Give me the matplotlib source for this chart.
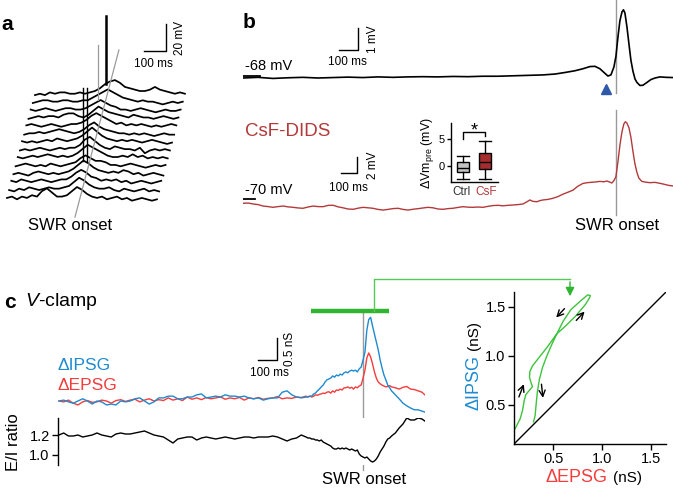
import numpy as np
import matplotlib
matplotlib.use("Agg")
import matplotlib.pyplot as plt
from matplotlib.lines import Line2D
from matplotlib.patches import FancyArrowPatch

plt.rcParams['font.family'] = ['Liberation Sans', 'DejaVu Sans']
plt.rcParams['mathtext.fontset'] = 'custom'
plt.rcParams['mathtext.rm'] = 'Liberation Sans'
plt.rcParams['mathtext.it'] = 'Liberation Sans:italic'
plt.rcParams['axes.linewidth'] = 1.0

# ======================= DATA =======================
# ---- panel a : waterfall of single-sweep Vm traces (local time in ms, Vm in mV re baseline)
a_time = [0, 23, 46, 69, 92, 115, 138, 161, 184, 207, 230, 253, 276, 299, 322,
          345, 368, 391, 414, 437, 460, 483, 506, 529, 552, 575, 598, 621, 644, 667, 690]
a_traces = [
    [0, 1, -1, 1, 0, 2, 1, 5, 7, 4, 1, 1, 2, 5, 8, 6, 3, 1, 0, 1, -1, 0, 1, -1, 0, -2, -1, 0, -1, -2, -1],
    [0, -1, 1, 0, 2, 1, 0, 1, 2, 1, 1, 2, 3, 6, 9, 7, 4, 2, 1, 1, 2, 0, -1, 1, 0, -1, 0, 1, -1, 0, -1],
    [1, 0, 2, 1, 0, 1, 2, 1, 0, 1, 2, 2, 4, 7, 9, 7, 4, 3, 1, 2, 1, 2, 0, 1, -1, 0, 1, 0, -1, 0, 1],
    [0, 1, 0, -1, 1, 2, 1, 0, 1, 0, 1, 2, 4, 7, 10, 8, 5, 3, 2, 1, 2, 1, 3, 2, 0, 1, -1, 0, 1, 0, -1],
    [0, 1, 2, 1, 0, 1, 0, 2, 1, 0, 1, 2, 3, 6, 8, 6, 4, 4, 3, 1, 1, 0, 1, 2, 1, 0, -1, 0, 1, 0, 1],
    [1, 0, 1, 2, 1, 2, 3, 2, 1, 2, 1, 2, 4, 7, 10, 8, 6, 4, 2, 1, 1, 2, 1, 3, 1, 2, 0, 1, 0, 1, 0],
    [0, 1, 0, 1, 2, 1, 0, 1, 2, 1, 2, 2, 4, 8, 10, 7, 4, 2, 1, 3, 2, 1, 1, 0, 2, -2, 0, 1, 0, 1, 0],
    [1, 0, 1, 0, 1, 2, 1, 3, 2, 1, 2, 3, 5, 8, 11, 8, 5, 3, 2, 1, 2, 1, 2, 1, 0, 1, 2, 1, 0, -1, 0],
    [0, 1, 1, 2, 1, 2, 3, 4, 3, 2, 1, 2, 4, 7, 9, 6, 4, 3, 2, 1, 1, 0, 1, 0, 1, 0, -1, 0, 1, 0, 0],
    [1, 2, 1, 0, 1, 2, 1, 0, 1, 2, 2, 3, 5, 8, 10, 8, 6, 4, 2, 3, 1, 2, 1, 2, 1, 0, 1, 0, 1, 2, 1],
    [0, 1, 2, 1, 2, 2, 1, 3, 4, 4, 2, 1, 3, 6, 9, 7, 5, 4, 3, 2, 1, 3, 2, 1, 1, 0, 1, 2, 1, 0, 1],
    [1, 0, 1, 2, 1, 0, 1, 2, 2, 1, 1, 2, 4, 6, 8, 6, 4, 3, 1, 1, 0, 1, 2, 1, 0, -1, 0, 1, 0, 0, 1],
    [0, 1, 2, 2, 1, 1, 2, 2, 1, 1, 2, 2, 4, 6, 8, 10, 8, 6, 4, 3, 2, 1, 2, 1, 1, 0, -1, 0, 1, 0, 1],
    [0, 1, 0, 2, 1, 2, 2, 1, 1, 2, 1, 2, 3, 5, 8, 10, 11, 9, 6, 5, 4, 3, 3, 4, 6, 4, 3, 2, 1, 2, 1],
]
a_spike_trace = [13, 3, 3]
a_spike_time = [327, 322, 338]
a_spike_amp = [58, 63, 63]

# ---- panel b : averaged Vm around SWR onset (ms, mV re baseline)
b_ctrl_t = [-1996, -1915, -1835, -1755, -1675, -1594, -1514, -1434, -1354, -1273, -1193, -1113,
            -1033, -952, -872, -792, -712, -631, -551, -471, -391, -326, -273, -219, -177, -139,
            -112, -86, -64, -43, -27, -11, 0, 11, 21, 32, 40, 48, 59, 70, 80, 91, 102, 112, 128,
            144, 166, 187, 209, 235, 268, 305]
b_ctrl_v = [0.0, 0.03, -0.02, 0.01, 0.03, 0.0, 0.02, 0.04, 0.02, 0.05, 0.03, 0.05,
            0.06, 0.05, 0.07, 0.06, 0.08, 0.08, 0.1, 0.12, 0.14, 0.18, 0.25, 0.33, 0.42, 0.52,
            0.53, 0.42, 0.25, 0.09, 0.14, 0.5, 1.0, 1.9, 2.6, 3.0, 3.1, 2.95, 2.3, 1.5, 0.8,
            0.3, -0.05, -0.2, -0.34, -0.33, -0.2, -0.07, 0.0, 0.05, 0.03, 0.02]
b_trough_t = [-53]
b_trough_v = [-0.48]

b_csf_t = [-2286, -2256, -2225, -2195, -2164, -2133, -2103, -2072, -2041, -2011, -1980, -1949,
           -1919, -1888, -1857, -1827, -1796, -1765, -1735, -1704, -1674, -1643, -1612, -1582,
           -1551, -1520, -1490, -1459, -1428, -1398, -1367, -1336, -1306, -1275, -1244, -1214,
           -1183, -1152, -1122, -1091, -1060, -1030, -999, -968, -938, -907, -877, -846, -815,
           -785, -754, -723, -693, -662, -631, -601, -570, -546, -527, -509, -484, -466, -447,
           -417, -386, -356, -325, -294, -264, -233, -202, -172, -141, -116, -98, -74, -55, -37,
           -25, -12, 0, 12, 25, 37, 49, 58, 67, 80, 92, 104, 116, 129, 141, 159, 184, 208, 239,
           270, 294, 319, 349]
b_csf_v = [-0.54, -0.5, -0.62, -0.7, -0.88, -0.95, -1.04, -0.95, -0.88, -0.98, -1.04, -1.12,
           -1.16, -1.0, -0.88, -0.95, -0.96, -0.8, -0.78, -0.98, -1.1, -1.25, -1.29, -1.15,
           -1.04, -1.1, -1.16, -1.3, -1.38, -1.3, -1.2, -1.16, -1.3, -1.38, -1.28, -1.21,
           -1.12, -1.04, -1.1, -1.25, -1.29, -1.2, -1.16, -1.05, -0.96, -1.02, -1.04, -1.0, -1.04,
           -0.92, -0.82, -0.79, -0.85, -0.79, -0.75, -0.7, -0.62, -0.35, -0.12, -0.3, -0.34, -0.2, -0.12,
           -0.05, 0.09, 0.3, 0.6, 0.85, 1.1, 1.6, 1.95, 2.05, 2.1, 2.15, 2.2, 2.15, 2.25, 2.1,
           2.0, 2.3, 2.79, 4.6, 6.8, 8.4, 9.4, 9.66, 9.5, 8.9, 7.7, 6.0, 4.46, 3.3, 2.6, 2.2, 2.1,
           2.04, 2.08, 1.96, 1.85, 1.72, 1.63]

b_box_labels = ['Ctrl', 'CsF']
b_box_med = [-0.3, 0.7]
b_box_q1 = [-1.1, -0.5]
b_box_q3 = [0.8, 2.5]
b_box_lo = [-2.4, -2.4]
b_box_hi = [1.9, 4.6]

# ---- panel c : conductances (nS) and E/I ratio around SWR onset (ms)
c_t = [-1600, -1575, -1550, -1525, -1500, -1475, -1450, -1425, -1400, -1375, -1350, -1325,
       -1300, -1275, -1250, -1225, -1200, -1175, -1150, -1125, -1100, -1075, -1050, -1025,
       -1000, -975, -950, -925, -900, -875, -850, -825, -800, -775, -750, -725, -700, -675,
       -650, -625, -600, -575, -550, -525, -500, -475, -450, -425, -400, -375, -350, -325, -300,
       -290, -280, -270, -260, -250, -240, -230, -220, -210, -200,
       -190, -180, -170, -160, -150, -140, -130, -120, -110, -100,
       -90, -80, -70, -60, -50, -40, -30, -20, -10, 0,
       10, 20, 30, 40, 50, 60, 70, 80, 90, 100,
       110, 120, 130, 140, 150,
       170, 190, 210, 230, 250, 270, 290, 310, 325]
c_ipsg = [0, 0.02, -0.02, -0.05, 0, 0.05, 0, -0.07, 0, -0.02,
          -0.09, -0.07, -0.09, 0, -0.02, 0, 0.05, 0.07, 0, -0.07,
          -0.02, 0.07, 0.07, 0.11, 0.11, 0.05, 0.05, 0.09, 0.09, 0.14,
          0.16, 0.07, 0.09, 0.11, 0.09, 0.14, 0.11, 0.11, 0.09, 0.11,
          0.07, 0.05, 0.07, 0.02, 0.05, 0.07, 0.07, 0.2, 0.23, 0.14,
          0.09, 0.07, 0.09,
          0.09, 0.11, 0.11, 0.16, 0.18, 0.23, 0.27, 0.32, 0.36, 0.43,
          0.48, 0.5, 0.52, 0.57, 0.54, 0.59, 0.57, 0.61, 0.59, 0.64,
          0.66, 0.64, 0.68, 0.7, 0.68, 0.7, 0.66, 0.73, 0.77, 0.93,
          1.11, 1.61, 1.85, 1.9, 1.7, 1.52, 1.34, 1.16, 0.93, 0.75,
          0.59, 0.48, 0.36, 0.3, 0.23,
          0.14, 0.05, -0.05, -0.11, -0.16, -0.2, -0.2, -0.23, -0.25]
c_epsg = [0, -0.02, 0.02, -0.05, -0.09, -0.02, 0.01, -0.03, -0.02, 0.02,
          0, -0.05, 0.01, 0.03, -0.01, 0.02, 0.04, -0.02, 0.02, 0.05,
          0.0, 0.03, 0.01, 0.07, 0.02, 0.05, 0.01, 0.09, 0.04, 0.07,
          0.03, 0.08, 0.05, 0.07, 0.09, 0.04, 0.07, 0.05, 0.08, 0.02,
          0.07, 0.05, 0.08, 0.04, 0.06, 0.07, 0.1, 0.05, 0.07, 0.06,
          0.09, 0.08, 0.11,
          0.09, 0.11, 0.09, 0.11, 0.14, 0.13, 0.15, 0.16, 0.18, 0.17,
          0.2, 0.21, 0.18, 0.23, 0.2, 0.25, 0.24, 0.27, 0.25, 0.3,
          0.3, 0.32, 0.29, 0.31, 0.27, 0.32, 0.3, 0.34, 0.36, 0.52,
          0.7, 0.98, 1.09, 1.0, 0.84, 0.66, 0.52, 0.43, 0.39, 0.36,
          0.34, 0.32, 0.33, 0.35, 0.32,
          0.3, 0.27, 0.31, 0.33, 0.27, 0.26, 0.23, 0.2, 0.14]
c_ei = [1.2, 1.22, 1.19, 1.19, 1.2, 1.18, 1.19, 1.2, 1.22, 1.2,
        1.19, 1.18, 1.21, 1.22, 1.21, 1.21, 1.22, 1.23, 1.24, 1.22,
        1.2, 1.19, 1.18, 1.15, 1.12, 1.16, 1.17, 1.18, 1.18, 1.15,
        1.17, 1.18, 1.17, 1.16, 1.17, 1.18, 1.17, 1.16, 1.17, 1.18,
        1.18, 1.17, 1.18, 1.18, 1.18, 1.19, 1.18, 1.16, 1.14, 1.16,
        1.17, 1.2, 1.18,
        1.17, 1.17, 1.16, 1.16, 1.15, 1.15, 1.14, 1.15, 1.13, 1.12,
        1.11, 1.1, 1.09, 1.07, 1.06, 1.06, 1.07, 1.06, 1.07, 1.06,
        1.07, 1.06, 1.05, 1.06, 1.05, 1.04, 1.05, 1.01, 0.99, 0.98,
        0.97, 0.98, 0.96, 0.94, 0.93, 0.94, 0.96, 0.99, 1.03, 1.06,
        1.09, 1.13, 1.16, 1.17, 1.19,
        1.22, 1.27, 1.31, 1.37, 1.35, 1.35, 1.37, 1.36, 1.34]
c_window = [-273, 137]

# ---- panel c right : dIPSG vs dEPSG trajectory (nS)
c_loop_epsg = [0.102, 0.129, 0.163, 0.187, 0.204, 0.221, 0.255, 0.289, 0.276, 0.258, 0.262,
               0.289, 0.35, 0.435, 0.537, 0.622, 0.724, 0.826, 0.87, 0.878, 0.85, 0.78, 0.68,
               0.60, 0.537, 0.486, 0.435, 0.391, 0.36, 0.34, 0.326, 0.316, 0.299]
c_loop_ipsg = [0.24, 0.291, 0.358, 0.442, 0.543, 0.604, 0.645, 0.685, 0.718, 0.779, 0.84,
               0.897, 0.975, 1.083, 1.224, 1.30, 1.40, 1.52, 1.59, 1.615, 1.62, 1.56, 1.47,
               1.35, 1.224, 1.116, 0.998, 0.881, 0.763, 0.645, 0.51, 0.393, 0.325]
c_arrow_tail = [(0.615, 1.48), (0.735, 1.36), (0.15, 0.58), (0.38, 0.71)]
c_arrow_head = [(0.53, 1.39), (0.82, 1.45), (0.20, 0.71), (0.395, 0.57)]

# ======================= FIGURE =======================
W, H = 673, 488
fig = plt.figure(figsize=(W / 100, H / 100), dpi=100)


def add_ax(l, t, r, b):
    return fig.add_axes([l / W, 1 - b / H, (r - l) / W, (b - t) / H])


def ftext(px, py, s, **kw):
    kw.setdefault('ha', 'center')
    kw.setdefault('va', 'center')
    return fig.text(px / W, 1 - py / H, s, **kw)


GRAY = '#9a9a9a'
CSF_RED = '#b3393b'
BLUE = '#1e8ad0'
RED = '#f43c3c'
GREEN = '#2fb52f'
LGREEN = '#55c855'

# ---------------- panel a ----------------
ax = add_ax(0, 10, 200, 230)
ax.set_xlim(0, 920)
ax.set_ylim(0, 161.3)
ax.axis('off')
a_t0, a_dt = 32.0, 9.9      # waterfall horizontal offset per sweep (ms)
a_v0, a_dv = 23.5, 5.8      # waterfall vertical offset per sweep (mV)
for k, tr in enumerate(a_traces):
    ax.plot(np.array(a_time) + a_t0 + a_dt * k, np.array(tr) + a_v0 + a_dv * k,
            color='k', lw=1.25, solid_joinstyle='round')
for k, ts, amp in zip(a_spike_trace, a_spike_time, a_spike_amp):
    base = np.interp(ts, a_time, a_traces[k]) + a_v0 + a_dv * k
    ax.plot([ts + a_t0 + a_dt * k] * 2, [base, a_v0 + a_dv * k + amp],
            color='k', lw=1.8 if k == 13 else 1.0)
ax.plot([345, 547], [9.5, 132], color=GRAY, lw=0.9)
ax.plot([451, 451], [95, 136], color=GRAY, lw=0.9)
# scale bar
ax.plot([664, 764, 764], [131.2, 131.2, 151.2], color='k', lw=1.0)
ax.text(708, 122, '100 ms', fontsize=8.5, ha='center', va='center')
ax.text(826, 141, '20 mV', fontsize=8.5, ha='center', va='center', rotation=90)
ftext(7, 24, 'a', fontsize=15, fontweight='bold')
ftext(70, 225, 'SWR onset', fontsize=12)

# ---------------- panel b top ----------------
ax = add_ax(243, 0, 673, 100)
ax.set_xlim(-1995, 305)
ax.set_ylim(-1.0, 3.545)
ax.axis('off')
ax.plot(b_ctrl_t, b_ctrl_v, color='k', lw=1.2)
ax.plot([0, 0], [-0.68, 3.545], color=GRAY, lw=1.0, zorder=0)
ax.plot(b_trough_t, b_trough_v, marker='^', ms=7, color='#2d59a8', mec='#2d59a8', ls='none')
ax.plot([-1995, -1905], [0.09, 0.09], color='k', lw=1.3)
ax.text(-1985, 0.55, '-68 mV', fontsize=10.5, ha='left', va='center')
ax.plot([-1482, -1380, -1380], [1.27, 1.27, 2.27], color='k', lw=1.0)
ax.text(-1439, 0.73, '100 ms', fontsize=8.5, ha='center', va='center')
ax.text(-1300, 1.77, '1 mV', fontsize=8.5, ha='center', va='center', rotation=90)
ftext(249, 22, 'b', fontsize=15, fontweight='bold')

# ---------------- panel b bottom ----------------
ax = add_ax(243, 105, 673, 220)
ax.set_xlim(-2287, 350)
ax.set_ylim(-2.625, 11.75)
ax.axis('off')
ax.plot(b_csf_t, b_csf_v, color=CSF_RED, lw=1.0)
ax.plot([0, 0], [-2.0, 11.1], color=GRAY, lw=1.0, zorder=0)
ax.plot([-2287, -2213], [0.0, 0.0], color='k', lw=1.3)
ax.text(-2274, 1.125, '-70 mV', fontsize=10.5, ha='left', va='center')
ax.text(-2274, 8.4, 'CsF-DIDS', fontsize=13.5, ha='left', va='center', color=CSF_RED)
ax.plot([-1686, -1586, -1586], [3.25, 3.25, 5.25], color='k', lw=1.0)
ax.text(-1643, 1.375, '100 ms', fontsize=8.5, ha='center', va='center')
ax.text(-1488, 4.25, '2 mV', fontsize=8.5, ha='center', va='center', rotation=90)
ftext(617, 225, 'SWR onset', fontsize=12)

# inset box plot
ax = add_ax(451, 123, 498, 182)
stats = []
for lab, me, q1, q3, lo, hi in zip(b_box_labels, b_box_med, b_box_q1, b_box_q3, b_box_lo, b_box_hi):
    stats.append(dict(label=lab, med=me, q1=q1, q3=q3, whislo=lo, whishi=hi, fliers=[]))
bp = ax.bxp(stats, positions=[1, 2], widths=0.55, patch_artist=True, showfliers=False,
            medianprops=dict(color='k', lw=1.0), whiskerprops=dict(lw=1.0),
            capprops=dict(lw=1.0), boxprops=dict(lw=1.0), capwidths=0.55)
for patch, fc in zip(bp['boxes'], ['#c4c4c4', '#a52d2f']):
    patch.set_facecolor(fc)
    patch.set_edgecolor('k')
ax.set_xlim(0.455, 2.59)
ax.set_ylim(-2.96, 7.96)
for s in ['top', 'right']:
    ax.spines[s].set_visible(False)
ax.set_yticks([0, 5])
ax.set_yticklabels(['0', '5'], fontsize=8)
ax.tick_params(axis='y', length=3, width=1, pad=1.5)
ax.tick_params(axis='x', length=0, pad=3)
ax.set_xticks([0.93, 2.07])
ax.set_xticklabels(b_box_labels, fontsize=8.5)
ax.get_xticklabels()[0].set_color('#333333')
ax.get_xticklabels()[1].set_color(CSF_RED)
ax.plot([1, 1, 2, 2], [5.0, 6.3, 6.3, 5.6], color='k', lw=1.0, clip_on=False)
ax.text(1.5, 6.5, '*', fontsize=13, ha='center', va='center')
ax.set_ylabel('ΔVm$_{\\mathregular{pre}}$ (mV)', fontsize=9, labelpad=2)

# ---------------- panel c traces ----------------
ftext(10, 302, 'c', fontsize=15, fontweight='bold')
ftext(25, 302, '$\\mathit{V}$-clamp', fontsize=14, ha='left')
ax = add_ax(58, 300, 425, 415)
ax.set_xlim(-1605, 326)
ax.set_ylim(-0.318, 2.293)
ax.axis('off')
ax.plot(c_t, c_ipsg, color=BLUE, lw=1.0, zorder=3)
ax.plot(c_t, c_epsg, color=RED, lw=1.0, zorder=2)
ax.plot([0, 0], [-1.57, 2.02], color=GRAY, lw=1.0, clip_on=False, zorder=1)
ax.plot(c_window, [2.04, 2.04], color=GREEN, lw=3.2, solid_capstyle='butt')
ax.plot([-552, -452, -452], [0.93, 0.93, 1.43], color='k', lw=1.0)
ax.text(-494, 0.64, '100 ms', fontsize=8.5, ha='center', va='center')
ax.text(-384, 1.18, '0.5 nS', fontsize=8.5, ha='center', va='center', rotation=90)
ftext(58, 366, 'ΔIPSG', fontsize=12.5, ha='left', color=BLUE)
ftext(58, 386, 'ΔEPSG', fontsize=12.5, ha='left', color=RED)

# E/I ratio
ax = add_ax(58, 418, 425, 465)
ax.set_xlim(-1605, 326)
ax.set_ylim(0.90, 1.37)
ax.plot(c_t, c_ei, color='k', lw=1.0)
for s in ['top', 'right', 'bottom']:
    ax.spines[s].set_visible(False)
ax.set_xticks([])
ax.set_yticks([1.0, 1.2])
ax.set_yticklabels(['1.0', '1.2'], fontsize=10.5)
ax.tick_params(axis='y', length=4, width=1, pad=2)
ftext(14, 442, 'E/I ratio', fontsize=12, rotation=90)
ftext(364, 479, 'SWR onset', fontsize=12)

# green connector to scatter
fig.add_artist(Line2D([374 / W, 374 / W, 570 / W], [1 - 311 / H, 1 - 279 / H, 1 - 279 / H],
                      transform=fig.transFigure, color=LGREEN, lw=1.0))
fig.add_artist(FancyArrowPatch((570 / W, 1 - 279 / H), (570 / W, 1 - 299 / H),
                               transform=fig.transFigure, arrowstyle='-|>', mutation_scale=13,
                               color=GREEN, lw=1.0))

# ---------------- panel c scatter ----------------
ax = add_ax(514, 292, 666, 444)
ax.set_xlim(0.1, 1.65)
ax.set_ylim(0.1, 1.65)
ax.plot([0.1, 1.65], [0.1, 1.65], color='k', lw=1.0)
ax.plot(c_loop_epsg, c_loop_ipsg, color='#3cc43c', lw=1.0)
for tail, head in zip(c_arrow_tail, c_arrow_head):
    ax.annotate('', xy=head, xytext=tail,
                arrowprops=dict(arrowstyle='->', lw=1.0, color='k', shrinkA=0, shrinkB=0,
                                mutation_scale=11))
for s in ['top', 'right']:
    ax.spines[s].set_visible(False)
ax.set_xticks([0.5, 1.0, 1.5])
ax.set_xticklabels(['0.5', '1.0', '1.5'], fontsize=10.5)
ax.set_yticks([0.5, 1.0, 1.5])
ax.set_yticklabels(['0.5', '1.0', '1.5'], fontsize=10.5)
ax.tick_params(length=4, width=1, pad=2)
ftext(577, 478, 'ΔEPSG', fontsize=13, color=RED)
ftext(627, 478, '(nS)', fontsize=11)
ftext(474, 382, 'ΔIPSG', fontsize=13, color=BLUE, rotation=90)
ftext(474, 336, '(nS)', fontsize=11, rotation=90)

fig.savefig('out.png', dpi=100)
